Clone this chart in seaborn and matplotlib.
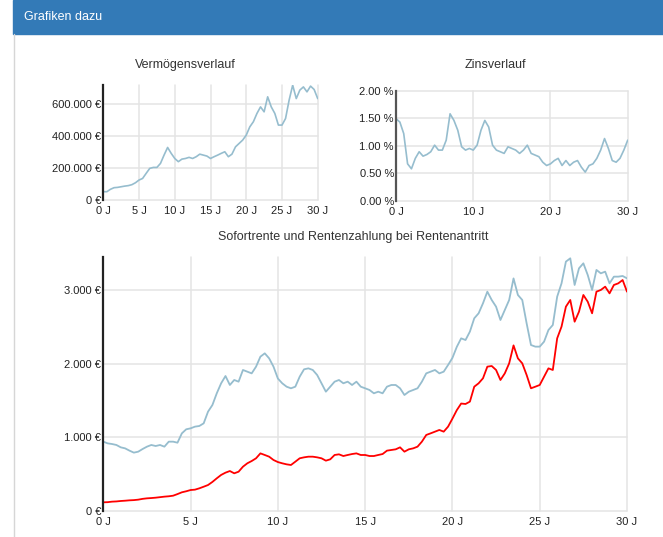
import numpy as np
import pandas as pd
import seaborn as sns
import matplotlib
matplotlib.use("Agg")
import matplotlib.pyplot as plt
from matplotlib.ticker import FuncFormatter, MultipleLocator
from matplotlib.patches import Rectangle
from matplotlib.lines import Line2D

# --- Daten ---
# Vermögensverlauf in Tsd. €, halbjährlich 0..30 J
vermoegen_tsd = [52, 52, 67, 77, 79, 83, 87, 90, 96, 108,
                 125, 135, 167, 198, 204, 204, 229, 281, 329, 292,
                 260, 240, 256, 260, 267, 260, 271, 287, 281, 275,
                 260, 271, 281, 292, 302, 271, 287, 333, 354, 375,
                 406, 458, 490, 542, 583, 552, 646, 583, 542, 469,
                 469, 510, 625, 719, 635, 688, 708, 677, 713, 692,
                 635]

# Zinsverlauf in %, halbjährlich 0..30 J
zins = [1.49, 1.43, 1.22, 0.67, 0.58, 0.77, 0.89, 0.81, 0.84, 0.89,
        1.01, 0.92, 0.92, 1.10, 1.58, 1.46, 1.28, 0.98, 0.92, 0.95,
        0.92, 1.01, 1.28, 1.46, 1.34, 1.01, 0.92, 0.89, 0.86, 0.98,
        0.95, 0.92, 0.86, 0.92, 1.01, 0.86, 0.83, 0.80, 0.70, 0.64,
        0.67, 0.73, 0.77, 0.64, 0.73, 0.64, 0.70, 0.73, 0.61, 0.52,
        0.64, 0.67, 0.77, 0.92, 1.13, 0.95, 0.73, 0.70, 0.77, 0.92,
        1.10]

# Sofortrente (blau) und Rentenzahlung (rot) in €, vierteljährlich 0..30 J
sofortrente = [942, 919, 910, 897, 865, 851, 820, 793, 806, 842,
               874, 897, 883, 897, 874, 942, 942, 928, 1055, 1110,
               1123, 1146, 1155, 1191, 1350, 1440, 1599, 1735, 1834, 1712,
               1780, 1757, 1916, 1893, 1870, 1961, 2097, 2142, 2074, 1961,
               1800,
               1735, 1689, 1667, 1689, 1825, 1925, 1938, 1916, 1848, 1735,
               1621, 1689, 1757, 1780, 1735, 1757, 1712, 1757, 1689, 1667,
               1644, 1599, 1621, 1599, 1689, 1712, 1712, 1667, 1576, 1621,
               1644, 1667, 1757, 1870, 1893, 1916, 1870, 1893, 1984, 2080,
               2230, 2346, 2323, 2437, 2618, 2686, 2822, 2980, 2867, 2776,
               2595, 2731, 2867, 3160, 2935, 2867, 2550, 2255, 2233, 2233,
               2301, 2459, 2527, 2912, 3093, 3388, 3433, 3071, 3297, 3365,
               3207, 3003, 3275, 3229, 3252, 3093, 3184, 3184, 3193, 3161]

rentenzahlung = [118, 120, 127, 130, 136, 140, 145, 148, 154, 165,
                 172, 176, 181, 188, 195, 200, 208, 230, 254, 268,
                 285, 290, 308, 330, 353, 395, 444, 490, 521, 543,
                 512, 534, 602, 648, 679, 716, 783, 761, 738, 693,
                 665,
                 648, 634, 625, 670, 716, 729, 738, 738, 729, 716,
                 684, 702, 761, 770, 747, 761, 774, 783, 761, 761,
                 747, 747, 761, 774, 820, 829, 838, 865, 806, 838,
                 851, 874, 942, 1033, 1055, 1078, 1101, 1078, 1146, 1255,
                 1370, 1460, 1454, 1486, 1689, 1735, 1803, 1961, 1970, 1916,
                 1780, 1870, 2006, 2250, 2074, 2006, 1848, 1667, 1689, 1712,
                 1825, 1938, 1916, 2346, 2505, 2776, 2867, 2572, 2708, 2935,
                 2844, 2686, 2980, 3003, 3048, 2957, 3071, 3093, 3138, 2980]

jahre_halb = np.linspace(0, 30, len(vermoegen_tsd))
jahre_viertel = np.linspace(0, 30, len(sofortrente))

df_verm = pd.DataFrame({"Jahr": jahre_halb, "Wert": np.array(vermoegen_tsd) * 1000})
df_zins = pd.DataFrame({"Jahr": jahre_halb, "Zins": zins})
df_rente = pd.concat([
    pd.DataFrame({"Jahr": jahre_viertel, "Betrag": sofortrente, "Serie": "Sofortrente"}),
    pd.DataFrame({"Jahr": jahre_viertel, "Betrag": rentenzahlung, "Serie": "Rentenzahlung"}),
])

BLAU = "#96bdce"
ROT = "#ff0000"
GRID = "#e4e4e4"
TEXT = "#222222"

sns.set_style("white")
plt.rcParams["font.family"] = ["Liberation Sans", "DejaVu Sans"]

W, H = 663, 537
fig = plt.figure(figsize=(W / 100, H / 100), dpi=100)


def px_axes(x0, y0, x1, y1):
    return fig.add_axes([x0 / W, 1 - y1 / H, (x1 - x0) / W, (y1 - y0) / H])


def euro(v, _):
    return f"{int(round(v)):,}".replace(",", ".") + " €"


def stil(ax, spine_color="#222222"):
    for s in ["top", "right", "bottom"]:
        ax.spines[s].set_visible(False)
    ax.spines["left"].set_color(spine_color)
    ax.spines["left"].set_linewidth(1.6)
    ax.spines["left"].set_zorder(5)
    ax.grid(True, color=GRID, linewidth=1.1)
    ax.set_axisbelow(True)
    ax.tick_params(length=0, labelsize=8, colors=TEXT)
    ax.tick_params(axis="y", pad=1.5)
    ax.tick_params(axis="x", pad=4.5)
    ax.xaxis.set_major_formatter(FuncFormatter(lambda v, _: f"{int(v)} J"))
    ax.set_xlabel("")
    ax.set_ylabel("")


# Kopfzeile
fig.patches.append(Rectangle((13 / W, 1 - 34 / H), 1 - 13 / W, 34 / H,
                             transform=fig.transFigure, color="#337ab7", zorder=0))
fig.lines.append(Line2D([13.5 / W, 13.5 / W], [0, 1 - 34 / H], transform=fig.transFigure,
                        color="#d6d6d6", linewidth=1))
fig.text(24 / W, 1 - 16.5 / H, "Grafiken dazu", color="white", fontsize=9, va="center",
         family=["Liberation Sans Narrow", "Liberation Sans", "DejaVu Sans"])

# Vermögensverlauf
ax1 = px_axes(103.3, 85, 317.7, 200)
sns.lineplot(data=df_verm, x="Jahr", y="Wert", ax=ax1, color=BLAU, linewidth=1.2)
ax1.set_xlim(0, 30)
ax1.set_ylim(0, 720000)
ax1.xaxis.set_major_locator(MultipleLocator(5))
ax1.yaxis.set_major_locator(MultipleLocator(200000))
ax1.yaxis.set_major_formatter(FuncFormatter(euro))
stil(ax1)
fig.text(185 / W, 1 - 65 / H, "Vermögensverlauf", fontsize=9, color="#333333", ha="center", va="center")

# Zinsverlauf
ax2 = px_axes(396, 90.7, 627.7, 200.7)
sns.lineplot(data=df_zins, x="Jahr", y="Zins", ax=ax2, color=BLAU, linewidth=1.2)
ax2.set_xlim(0, 30)
ax2.set_ylim(0, 2.0)
ax2.xaxis.set_major_locator(MultipleLocator(10))
ax2.yaxis.set_major_locator(MultipleLocator(0.5))
ax2.yaxis.set_major_formatter(FuncFormatter(lambda v, _: f"{v:.2f} %"))
stil(ax2, spine_color="#555555")
fig.text(495 / W, 1 - 65 / H, "Zinsverlauf", fontsize=9, color="#333333", ha="center", va="center")

# Sofortrente und Rentenzahlung
ax3 = px_axes(103.3, 256.7, 627, 511)
sns.lineplot(data=df_rente, x="Jahr", y="Betrag", hue="Serie", ax=ax3,
             palette={"Sofortrente": BLAU, "Rentenzahlung": ROT}, linewidth=1.3, legend=False)
ax3.set_xlim(0, 30)
ax3.set_ylim(0, 3455)
ax3.xaxis.set_major_locator(MultipleLocator(5))
ax3.yaxis.set_major_locator(MultipleLocator(1000))
ax3.yaxis.set_major_formatter(FuncFormatter(euro))
stil(ax3)
fig.text(353 / W, 1 - 237 / H, "Sofortrente und Rentenzahlung bei Rentenantritt",
         fontsize=9, color="#333333", ha="center", va="center")

for ax in (ax1, ax2, ax3):
    for gl in ax.get_xgridlines() + ax.get_ygridlines():
        gl.set_clip_on(False)

fig.savefig("out.png", dpi=100)
